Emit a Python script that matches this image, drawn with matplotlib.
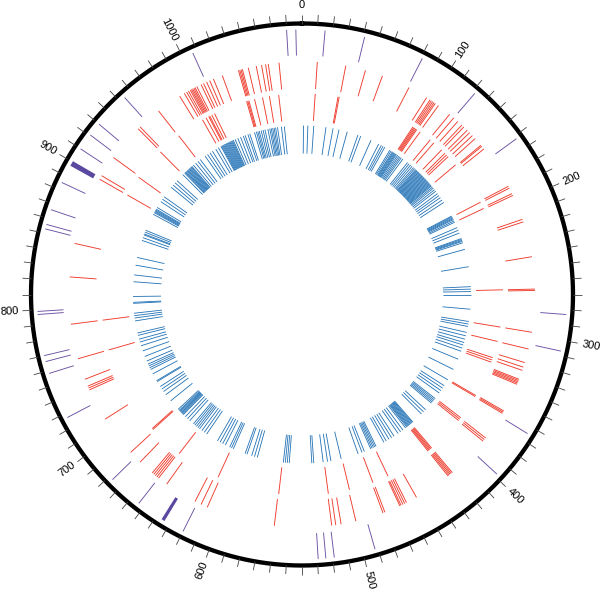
import numpy as np
import matplotlib.pyplot as plt

# approximate genome length (kb) - labels every 100, ticks every 10
GENOME = 1080

# feature positions (kb), one list per ring
purple = [15, 41, 81, 122, 162, 283, 307, 365, 398, 492, 519, 524.5, 529.5,
          620, 654, 677, 727, 758, 766, 770, 797, 799, 853, 856, 866, 885,
          910, 921, 930, 954, 1007, 1070, 1076]
purple_wide_start = [633.8, 897.2]
purple_wide_len = [2.2, 3.4]

red_outer = [11.3, 32.5, 47.4, 60.6, 82, 97, 100, 101.2, 102.4, 103.6, 104.7,
             107.5, 118, 122, 126, 130, 132, 135.5, 138, 141, 144, 150.5,
             151.5, 154, 187, 188.5, 193, 194.5, 213.5, 215.5, 242, 266, 267,
             298, 310.6, 321, 324.5, 327, 334, 335, 336, 337, 338, 360, 361,
             362, 384, 385.5, 387, 419.5, 420.5, 421.5, 422.5, 423.5, 451.7,
             460, 461.5, 463, 464.5, 465.5, 477.5, 479, 499.9, 511, 515, 518,
             560.5, 612, 617, 622, 646.5, 654, 655.5, 657, 658.5, 660, 672,
             682, 713, 737.5, 739, 740.5, 746, 762, 788, 823, 848, 899, 902,
             918, 946, 948, 966, 985, 989, 991, 992.5, 994, 995, 996, 997,
             998, 999.5, 1003, 1005, 1007.5, 1010, 1013, 1020, 1032.5, 1033.5,
             1034.5, 1035.5, 1040, 1046, 1050, 1053, 1055, 1063]

red_inner = [11.3, 31, 32, 100.5, 101.5, 102.5, 103.5, 104.5, 108, 119, 123,
             132, 136, 138, 140, 149.5, 188, 194, 266, 298, 310.5, 325, 327,
             329, 360.5, 361.5, 383.5, 385, 386.5, 419.5, 420.5, 421.5, 422.5,
             423.5, 464, 478, 499, 517.4, 560, 614, 653, 683.5, 684.5, 762,
             788, 899, 917, 945.6, 966.5, 991, 994.5, 997, 998, 1000, 1002.6,
             1032, 1033, 1034, 1039, 1046, 1052, 1060]

blue = [1.5, 6, 12, 24.5, 31.8, 38, 46.6, 58, 61, 72.3, 81, 84, 86, 88,
        94, 95.5, 97, 98, 99, 100, 101, 102, 103.5, 105, 106.5, 108, 110,
        116, 118, 120, 122, 124, 125.5, 127, 128, 129, 130, 131, 132, 133,
        134, 135, 136, 137, 138, 139, 140, 141, 142, 143, 144, 145, 146, 147,
        148, 149, 150, 151.5, 153, 155, 157, 160, 162.5, 165, 168, 171,
        187, 188, 189, 190, 191, 192.5, 194, 200, 203, 206, 212, 213, 214,
        215, 216.5, 223.5, 241.6, 262, 264.5, 267, 270, 285, 297.6, 300.2,
        302.7, 308.9, 312.5, 316, 319.5, 322.2, 325.5, 328.9, 337.5, 349,
        361, 368, 371, 374, 377, 384, 385.5, 387, 388.5, 390, 399, 402, 405,
        417, 418, 419, 420, 421, 422, 423, 424, 425, 426.5, 430, 433, 436,
        441, 444, 447, 450.3, 453, 462, 463.5, 465, 466.5, 468, 475, 477.6,
        481.8, 499.8, 510.4, 513.9, 518.4, 528, 530, 553, 555, 557, 559,
        586, 589, 592, 597, 599, 612, 614, 616, 621,
        624, 627, 630, 643, 646, 649, 652, 654, 656, 658, 660, 665, 668,
        671, 674, 675, 676, 677, 678, 679, 680, 681.5, 693, 701, 705, 708,
        711, 717, 718, 726, 731, 733, 735, 737, 740.4, 745.5, 751.5, 757,
        761, 764, 768, 770.5, 783, 786, 788.4, 790.9, 801, 802, 808, 823,
        830, 840, 848, 866, 869, 872, 873, 875, 877, 895, 897, 898, 899, 900,
        901, 903, 910, 913, 916, 928, 931, 934, 937, 945.5, 948, 949, 950,
        951, 952, 953, 954, 955, 956, 957, 958, 960, 963, 966, 969, 975, 978,
        981, 984, 988, 991, 994, 995, 996, 997, 998, 999, 1000, 1001, 1002,
        1003, 1004, 1005, 1006, 1007, 1008, 1010, 1013, 1016, 1019, 1021,
        1024, 1026, 1031, 1033, 1034.5, 1036, 1038, 1040, 1042, 1045, 1047,
        1048.5, 1050, 1051.5, 1053, 1055, 1059, 1062]

tick_labels = ['0', '100', '200', '300', '400', '500', '600', '700', '800',
               '900', '1000']


def to_theta(p):
    return np.asarray(p, dtype=float) / GENOME * 2 * np.pi


fig = plt.figure(figsize=(6, 5.91), dpi=100)
# axes sized so one radial unit = one pixel, centre at (302, 294.5)
ax = fig.add_axes([2 / 600, -3.5 / 591, 600 / 600, 600 / 591], projection='polar')
ax.set_theta_zero_location('N')
ax.set_theta_direction(-1)
ax.set_ylim(0, 300)
ax.axis('off')

# rings
ax.vlines(to_theta(purple), 239, 265, colors='#6a51a3', linewidth=0.65)
ax.bar(to_theta(purple_wide_start), 26, width=to_theta(purple_wide_len),
       bottom=239, align='edge', color='#5b48a0', linewidth=0)
ax.vlines(to_theta(red_outer), 206, 233, colors='#ef3b2c', linewidth=0.65)
ax.vlines(to_theta(red_inner), 174, 201, colors='#ef3b2c', linewidth=0.65)
ax.vlines(to_theta(blue), 141, 169, colors='#2171b5', linewidth=0.6)

# outer circle + ticks
t = np.linspace(0, 2 * np.pi, 721)
ax.plot(t, np.full_like(t, 271), color='black', linewidth=3.1)
ax.vlines(to_theta(np.arange(0, GENOME, 10)), 271, 280, colors='#444444', linewidth=0.6)

for lab in tick_labels:
    pos = int(lab)
    deg = pos / GENOME * 360
    th = to_theta(pos)
    if pos == 0:
        ax.text(th, 289, lab, ha='center', va='center', fontsize=8,
                family='Liberation Sans')
        continue
    rot = ((90 - deg + 180) % 360) - 180
    ha = 'left'
    if rot > 90 or rot < -90:
        rot = rot - 180 if rot > 0 else rot + 180
        ha = 'right'
    ax.text(th, 284, lab, rotation=rot, rotation_mode='anchor', ha=ha,
            va='center', fontsize=8, family='Liberation Sans')

fig.savefig('out.png', dpi=100)
